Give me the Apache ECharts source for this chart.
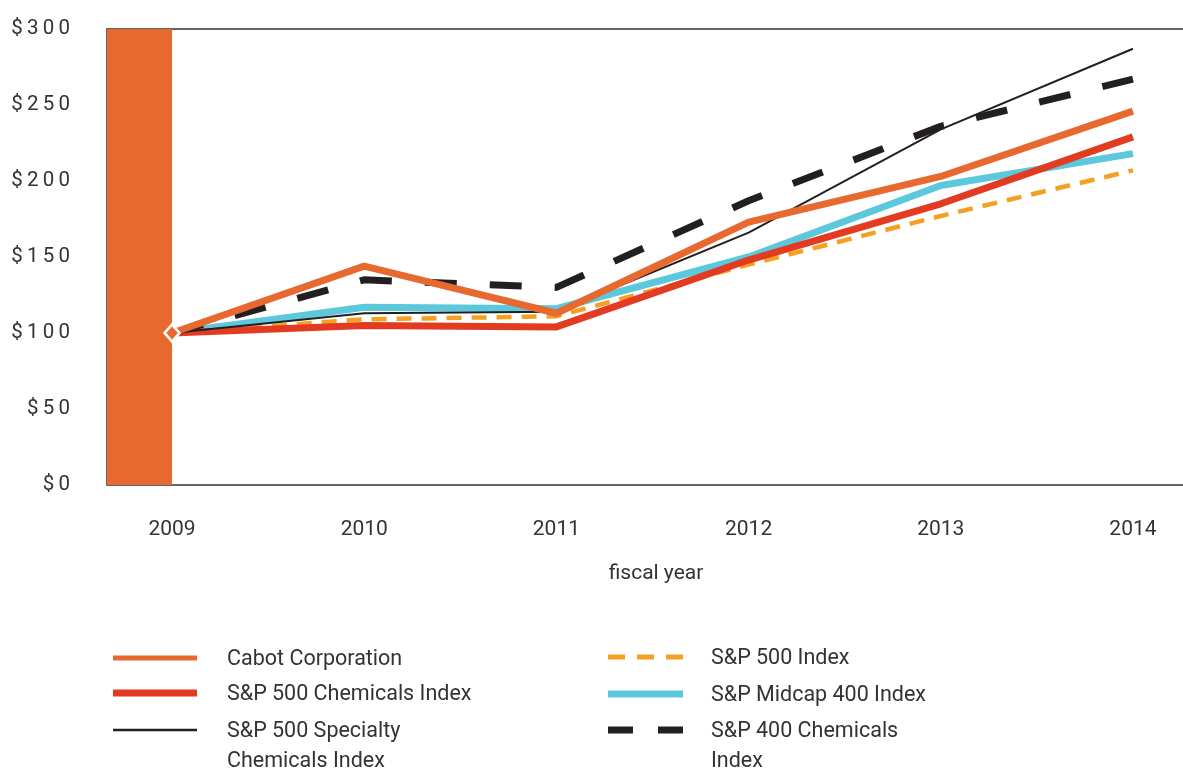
<!DOCTYPE html>
<html>
<head>
<meta charset="utf-8">
<script src="https://cdn.jsdelivr.net/npm/echarts@6/dist/echarts.min.js"></script>
<style>
html,body{margin:0;padding:0;background:#fff;}
#chart{width:1183px;height:769px;}
</style>
</head>
<body>
<div id="chart"></div>
<script>
// ---- data ----
var years = [2009, 2010, 2011, 2012, 2013, 2014];
var cabot = [100, 144, 113, 173, 203, 246];
var sp500Chem = [100, 105, 104, 148, 185, 229];
var sp500Spec = [100, 113, 114, 166, 234, 287];
var sp500 = [100, 109, 111, 145, 177, 207];
var midcap400 = [100, 117, 116, 150, 197, 218];
var sp400Chem = [100, 135, 130, 187, 236, 267];
var yTicks = [0, 50, 100, 150, 200, 250, 300];
var seriesNames = ['Cabot Corporation', 'S&P 500 Chemicals Index', 'S&P 500 Specialty\nChemicals Index',
                   'S&P 500 Index', 'S&P Midcap 400 Index', 'S&P 400 Chemicals\nIndex'];

function pairs(vals){ return years.map(function(y,i){ return [y, vals[i]]; }); }

var XMIN = years[0] - 65/192;
var XMAX = years[years.length-1] + 50/192;
var FONT = 'Roboto, "Noto Sans", sans-serif';
var TXT = '#333';

var C_CABOT = '#E8692F', C_RED = '#E33B22', C_BLACK = '#231F20', C_YEL = '#F5A021', C_CYAN = '#5BC8DC';

var chart = echarts.init(document.getElementById('chart'));

function legendItem(x, y, len, tx, color, width, dash, label){
  return [{
    type:'line', shape:{x1:x, y1:y, x2:x+len, y2:y},
    style:{stroke:color, lineWidth:width, lineDash: dash || null}
  }, {
    type:'text', x: tx, y: y - 13,
    style:{text: label, fill: TXT, font: '21.5px ' + FONT, lineHeight: 30, textVerticalAlign:'top'}
  }];
}

var graphics = []
  .concat(legendItem(113, 658, 84, 227, C_CABOT, 5, null, seriesNames[0]))
  .concat(legendItem(113, 693, 84, 227, C_RED, 7, null, seriesNames[1]))
  .concat(legendItem(113, 730, 84, 227, C_BLACK, 2.5, null, seriesNames[2]))
  .concat(legendItem(608, 657, 75, 711, C_YEL, 5, [17, 12], seriesNames[3]))
  .concat(legendItem(608, 694, 75, 711, C_CYAN, 7, null, seriesNames[4]))
  .concat(legendItem(608, 730, 75, 711, C_BLACK, 7, [25, 25], seriesNames[5]));

var option = {
  animation: false,
  backgroundColor: '#fff',
  grid: {left: 107, right: 0, top: 29, bottom: 284, containLabel: false},
  xAxis: [{
    type: 'value', min: XMIN, max: XMAX, position: 'bottom',
    axisLine: {show: true, lineStyle: {color: '#666', width: 2}},
    axisTick: {show: false},
    splitLine: {show: false},
    axisLabel: {
      customValues: years, margin: 34,
      color: TXT, fontSize: 21, fontFamily: FONT,
      formatter: function(v){ return String(Math.round(v)); }
    },
    name: 'fiscal year', nameLocation: 'middle', nameGap: 78,
    nameTextStyle: {color: TXT, fontSize: 21, fontFamily: FONT, padding: [0, 0, 0, 22]}
  }, {
    type: 'value', min: XMIN, max: XMAX, position: 'top',
    axisLine: {show: true, lineStyle: {color: '#333', width: 1.5}},
    axisTick: {show: false}, axisLabel: {show: false}, splitLine: {show: false}
  }],
  yAxis: {
    type: 'value', min: 0, max: 300, interval: 50,
    axisLine: {show: true, lineStyle: {color: '#333', width: 1.5}},
    axisTick: {show: false},
    splitLine: {show: false},
    axisLabel: {
      margin: 37, color: TXT, fontSize: 20.5, fontFamily: FONT,
      formatter: function(v){ return ('$' + v).split('').join('\u2009'); }
    }
  },
  graphic: graphics,
  series: [
    {
      name: seriesNames[4], type: 'line', data: pairs(midcap400), symbol: 'none',
      lineStyle: {color: C_CYAN, width: 7},
      markArea: {
        silent: true, itemStyle: {color: C_CABOT, opacity: 1},
        data: [[{coord: [XMIN, yTicks[0]]}, {coord: [years[0], yTicks[yTicks.length-1]]}]]
      },
      z: 2
    },
    {
      name: seriesNames[3], type: 'line', data: pairs(sp500), symbol: 'none',
      lineStyle: {color: C_YEL, width: 4.5, type: [15, 10]}, z: 3
    },
    {
      name: seriesNames[1], type: 'line', data: pairs(sp500Chem), symbol: 'none',
      lineStyle: {color: C_RED, width: 7}, z: 4
    },
    {
      name: seriesNames[2], type: 'line', data: pairs(sp500Spec), symbol: 'none',
      lineStyle: {color: C_BLACK, width: 2}, z: 5
    },
    {
      name: seriesNames[5], type: 'line', data: pairs(sp400Chem), symbol: 'none',
      lineStyle: {color: C_BLACK, width: 7, type: [32, 33]}, z: 6
    },
    {
      name: seriesNames[0], type: 'line', data: pairs(cabot), symbol: 'none',
      lineStyle: {color: C_CABOT, width: 7}, z: 7
    },
    {
      name: 'start', type: 'scatter', data: [[years[0], cabot[0]]],
      symbol: 'diamond', symbolSize: [15, 17],
      itemStyle: {color: C_CABOT, borderColor: '#fff', borderWidth: 2.5, opacity: 1},
      z: 8, silent: true
    }
  ]
};
chart.setOption(option);
</script>
</body>
</html>
